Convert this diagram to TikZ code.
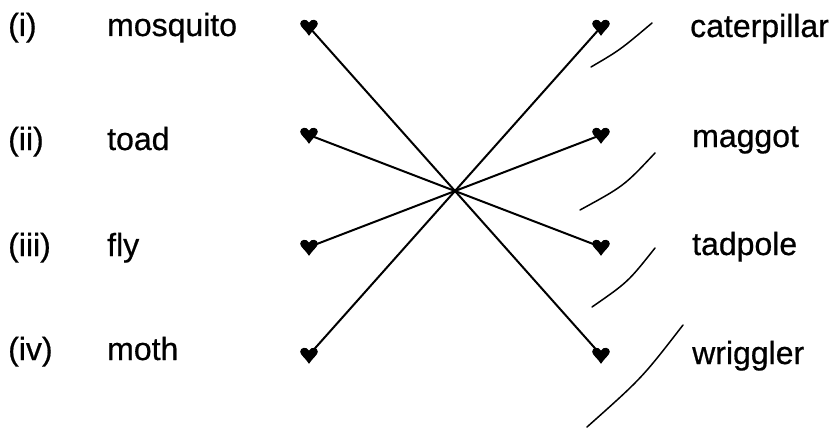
\documentclass[tikz,border=0pt]{standalone}
\usepackage{fontspec}
\setmainfont{Liberation Sans}
\newfontfamily\lblfont[FakeBold=0.6]{Liberation Sans}
\begin{document}
\begin{tikzpicture}[x=1pt,y=-1pt,
  lbl/.style={anchor=base west, inner sep=0pt, font=\lblfont\fontsize{32}{36}\selectfont},
  link/.style={line width=2pt, line cap=round},
  scrib/.style={line width=1.5pt, line cap=round},
  heartpic/.pic={\fill[scale=1.1] (0,8) .. controls (-3,3) and (-8,0) .. (-8,-3)
      .. controls (-8,-7) and (-2,-8) .. (0,-4)
      .. controls (2,-8) and (8,-7) .. (8,-3)
      .. controls (8,0) and (3,3) .. (0,8) -- cycle;}]
\useasboundingbox (0,0) rectangle (838,428);

% labels, left
\node[lbl] (n1) at (8,36) {(i)};
\node[lbl] (n2) at (8,150) {(ii)};
\node[lbl] (n3) at (8,256) {(iii)};
\node[lbl] (n4) at (8,360) {(iv)};
\node[lbl] (a1) at (107,36) {mosquito};
\node[lbl] (a2) at (107,150) {toad};
\node[lbl] (a3) at (107,256) {fly};
\node[lbl] (a4) at (107,360) {moth};
% labels, right
\node[lbl] (b1) at (690,37) {caterpillar};
\node[lbl] (b2) at (692,147) {maggot};
\node[lbl] (b3) at (692,255) {tadpole};
\node[lbl] (b4) at (692,364) {wriggler};

% end points
\coordinate (L1) at (309,27);
\coordinate (L2) at (309,135);
\coordinate (L3) at (309,247);
\coordinate (L4) at (309,355);
\coordinate (R1) at (601,27);
\coordinate (R2) at (601,135);
\coordinate (R3) at (601,247);
\coordinate (R4) at (601,355);

% matching lines
\draw[link] (L1) -- (R4);
\draw[link] (R1) -- (L4);
\draw[link] (L2) -- (R3);
\draw[link] (L3) -- (R2);

% heart markers
\foreach \p in {L1,L2,L3,L4,R1,R2,R3,R4}
  \pic at (\p) {heartpic};

% hand-drawn answer strokes
\draw[scrib] (591,67) .. controls (620,50) .. (652,23);
\draw[scrib] (580,210) .. controls (624,186) .. (655,153);
\draw[scrib] (592,307) .. controls (628,282) .. (655,248);
\draw[scrib] (587,427) .. controls (642,378) .. (683,325);
\end{tikzpicture}
\end{document}
